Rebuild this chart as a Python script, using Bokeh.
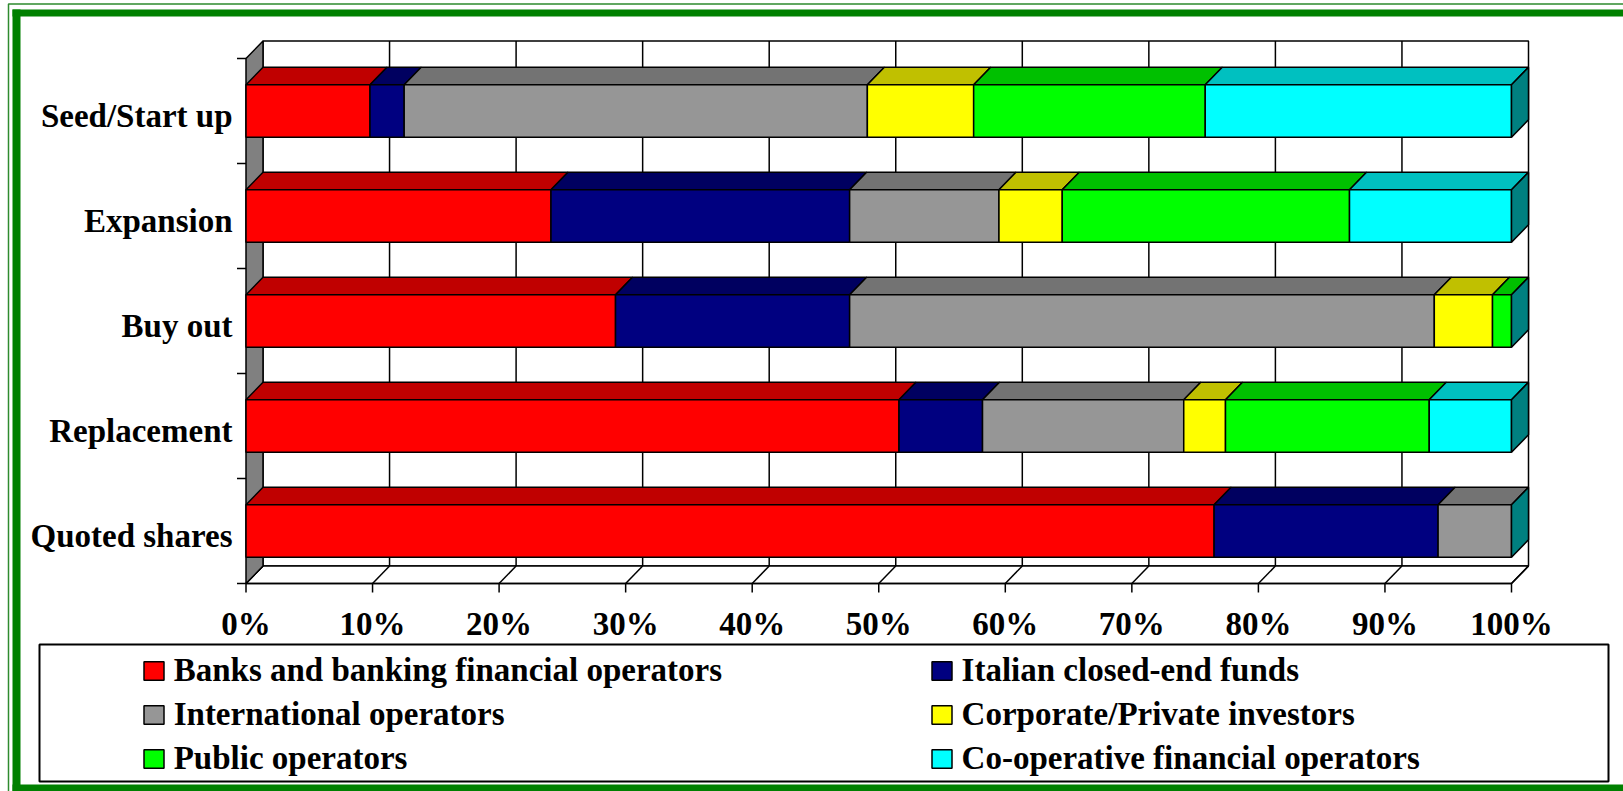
from bokeh.plotting import figure
from bokeh.models import Range1d, Legend, LegendItem, ColumnDataSource
from bokeh.core.properties import value
from bokeh.embed import file_html
from bokeh.resources import INLINE

# ---------------- data ----------------
categories = ["Seed/Start up", "Expansion", "Buy out", "Replacement", "Quoted shares"]
series_names = ["Banks and banking financial operators", "Italian closed-end funds",
                "International operators", "Corporate/Private investors",
                "Public operators", "Co-operative financial operators"]
banks = [9.8, 24.1, 29.2, 51.6, 76.5]
italian_funds = [2.7, 23.6, 18.5, 6.6, 17.7]
international = [36.6, 11.8, 46.2, 15.9, 5.8]
corporate = [8.4, 5.0, 4.6, 3.3, 0.0]
public = [18.3, 22.7, 1.5, 16.1, 0.0]
cooperative = [24.2, 12.8, 0.0, 6.5, 0.0]
x_ticks = [0, 10, 20, 30, 40, 50, 60, 70, 80, 90, 100]
x_tick_labels = ["0%", "10%", "20%", "30%", "40%", "50%", "60%", "70%", "80%", "90%", "100%"]

series_values = [banks, italian_funds, international, corporate, public, cooperative]
front_colors = ["#FF0000", "#000080", "#969696", "#FFFF00", "#00FF00", "#00FFFF"]
top_colors = ["#C00000", "#000060", "#737373", "#C0C000", "#00C000", "#00C0C0"]
side_color = "#008080"
wall_color = "#808080"

# ---------------- geometry (page pixels) ----------------
W, H = 1623, 791
X0PX, Y0PX = 245.5, 583.0      # where 0 % / floor of the front plane lies
PX_X = 12.655                  # px per percent
PX_Y = 105.0                   # px per category band


def sx(px):
    return (px - X0PX) / PX_X


def sy(py):
    return (Y0PX - py) / PX_Y


DX = 17 / PX_X
DY = 17.5 / PX_Y
BAR_H = 0.5
n = len(categories)
cat_pos = [n - 1 - i + 0.5 for i in range(n)]
XMAX = x_ticks[-1]
FONT = "Liberation Serif"
LW = 1.5

p = figure(width=W, height=H, x_range=Range1d(sx(0), sx(W)), y_range=Range1d(sy(H), sy(0)),
           output_backend="svg", toolbar_location=None, min_border=0,
           x_axis_location=None, y_axis_location=None,
           background_fill_color="white", border_fill_color="white")
p.outline_line_color = None
p.grid.visible = False

# ---------------- green frame ----------------
p.quad(left=sx(8), right=sx(W + 5), top=sy(3.5), bottom=sy(H + 5),
       fill_color=None, line_color="#2E8B2E", line_width=1.5)
p.quad(left=[sx(12), sx(12), sx(12)], right=[sx(W + 5), sx(20), sx(W + 5)],
       top=[sy(9), sy(9), sy(784)], bottom=[sy(16), sy(H + 5), sy(H + 5)],
       fill_color="#008000", line_color=None)

# ---------------- walls & floor ----------------
p.quad(left=DX, right=XMAX + DX, bottom=DY, top=n + DY,
       fill_color="white", line_color="black", line_width=LW)
inner = x_ticks[1:-1]
p.segment(x0=[t + DX for t in inner], y0=[DY] * len(inner),
          x1=[t + DX for t in inner], y1=[n + DY] * len(inner),
          line_color="black", line_width=LW)
p.patch([0, XMAX, XMAX + DX, DX], [0, 0, DY, DY],
        fill_color="white", line_color="black", line_width=LW)
p.segment(x0=x_ticks, y0=[0] * len(x_ticks), x1=[t + DX for t in x_ticks],
          y1=[DY] * len(x_ticks), line_color="black", line_width=LW)
p.patch([0, DX, DX, 0], [0, DY, n + DY, n],
        fill_color=wall_color, line_color="black", line_width=LW)

# axis ticks
TICK_X = 9 / PX_X
TICK_Y = 9 / PX_Y
p.segment(x0=x_ticks, y0=[0] * len(x_ticks), x1=x_ticks, y1=[-TICK_Y] * len(x_ticks),
          line_color="black", line_width=LW)
bounds = list(range(n + 1))
p.segment(x0=[0] * len(bounds), y0=bounds, x1=[-TICK_X] * len(bounds), y1=bounds,
          line_color="black", line_width=LW)
p.segment(x0=[0], y0=[0], x1=[XMAX], y1=[0], line_color="black", line_width=LW)

# ---------------- bars ----------------
cum = [0.0] * n
front_renderers = []
for k, vals in enumerate(series_values):
    L, R, B, T, xs, ys = [], [], [], [], [], []
    for i, v in enumerate(vals):
        l = cum[i]
        r = cum[i] + v
        cum[i] = r
        if v <= 0:
            continue
        c = cat_pos[i]
        L.append(l); R.append(r); B.append(c - BAR_H / 2); T.append(c + BAR_H / 2)
        xs.append([l, r, r + DX, l + DX])
        ys.append([c + BAR_H / 2, c + BAR_H / 2, c + BAR_H / 2 + DY, c + BAR_H / 2 + DY])
    p.patches(xs, ys, fill_color=top_colors[k], line_color="black", line_width=LW)
    src = ColumnDataSource(dict(left=L, right=R, bottom=B, top=T))
    r = p.quad(left="left", right="right", bottom="bottom", top="top", source=src,
               fill_color=front_colors[k], line_color="black", line_width=LW)
    front_renderers.append(r)

sxs, sys_ = [], []
for i in range(n):
    c = cat_pos[i]
    e = cum[i]
    sxs.append([e, e, e + DX, e + DX])
    sys_.append([c - BAR_H / 2, c + BAR_H / 2, c + BAR_H / 2 + DY, c - BAR_H / 2 + DY])
p.patches(sxs, sys_, fill_color=side_color, line_color="black", line_width=LW)

# ---------------- tick labels ----------------
p.text(x=x_ticks, y=[0] * len(x_ticks), text=x_tick_labels, y_offset=40,
       text_align="center", text_baseline="alphabetic",
       text_font=value(FONT), text_font_style="bold", text_font_size="33px",
       text_color="black")
p.text(x=[0] * n, y=cat_pos, text=categories, x_offset=-13.5, y_offset=5,
       text_align="right", text_baseline="middle",
       text_font=value(FONT), text_font_style="bold", text_font_size="33px",
       text_color="black")

# ---------------- legend ----------------
p.quad(left=sx(39), right=sx(1608), top=sy(644), bottom=sy(781),
       fill_color=None, line_color="black", line_width=2)
leg_kw = dict(orientation="vertical", padding=0, margin=0, spacing=7,
              glyph_width=25, glyph_height=23, label_standoff=8, label_height=37,
              label_text_font=FONT, label_text_font_style="bold",
              label_text_font_size="33px", label_text_color="black",
              border_line_color=None, background_fill_alpha=0)
leg1 = Legend(items=[LegendItem(label=series_names[k], renderers=[front_renderers[k]])
                     for k in (0, 2, 4)], location=(140.7, H - 776.5), **leg_kw)
leg2 = Legend(items=[LegendItem(label=series_names[k], renderers=[front_renderers[k]])
                     for k in (1, 3, 5)], location=(928.6, H - 776.5), **leg_kw)
p.add_layout(leg1)
p.add_layout(leg2)

open("out.html", "w").write(file_html(p, INLINE))
